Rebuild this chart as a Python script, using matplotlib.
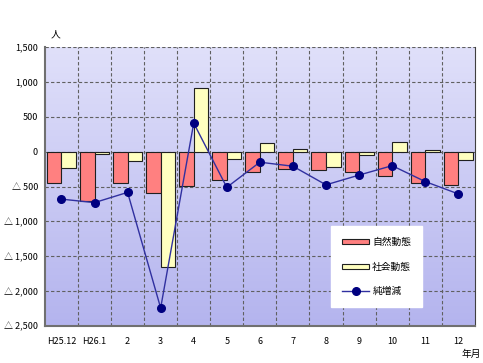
import numpy as np
import matplotlib
matplotlib.use('Agg')
import matplotlib.pyplot as plt
from matplotlib.ticker import FixedLocator

plt.rcParams['font.family'] = ['Noto Sans CJK JP', 'DejaVu Sans']

months = ['H25.12', 'H26.1', '2', '3', '4', '5', '6', '7', '8', '9', '10', '11', '12']
natural = [-445, -700, -450, -592, -497, -411, -285, -244, -258, -297, -344, -449, -483]
social = [-230, -30, -130, -1650, 913, -100, 128, 39, -220, -43, 139, 19, -115]
net = [-680, -730, -583, -2242, 411, -511, -150, -208, -475, -335, -200, -428, -605]

yticks = [1500, 1000, 500, 0, -500, -1000, -1500, -2000, -2500]


def fmt(v):
    if v < 0:
        return '△ {:,}'.format(-v)
    return '{:,}'.format(v)


fig = plt.figure(figsize=(4.83, 3.63), dpi=100)
ax = fig.add_axes([0.093, 0.102, 0.890, 0.768])

x = np.arange(len(months))
w = 0.44

# gradient background
grad = np.linspace(0, 1, 256).reshape(-1, 1)
cmap = matplotlib.colors.LinearSegmentedColormap.from_list('bg', ['#e0e0fa', '#b4b4ee'])
ax.imshow(grad, aspect='auto', cmap=cmap, extent=[-0.5, 12.5, -2500, 1500],
          origin='upper', zorder=0)

b1 = ax.bar(x - w / 2, natural, w, color='#ff8080', edgecolor='#202020', linewidth=0.8,
            zorder=3, label='自然動態')
b2 = ax.bar(x + w / 2, social, w, color='#ffffc0', edgecolor='#202020', linewidth=0.8,
            zorder=3, label='社会動態')
ln, = ax.plot(x, net, color='#3030a0', linewidth=1.0, marker='o', markersize=5.5,
              markerfacecolor='#000080', markeredgecolor='#000080', zorder=4, label='純増減')

ax.set_xlim(-0.5, 12.5)
ax.set_ylim(-2500, 1500)
ax.set_xticks(x)
ax.set_xticklabels(months)
ax.set_yticks(yticks)
ax.set_yticklabels([fmt(v) for v in yticks])
ax.tick_params(length=0, labelsize=6.5)
ax.tick_params(axis='y', pad=5)
ax.tick_params(axis='x', pad=8)

ax.xaxis.set_minor_locator(FixedLocator(np.arange(0.5, 12.5, 1)))
ax.grid(True, which='minor', axis='x', color='#606060', linestyle=(0, (3, 2)), linewidth=0.8)
ax.grid(True, which='major', axis='y', color='#606060', linestyle=(0, (3, 2)), linewidth=0.8)
ax.tick_params(which='minor', length=0)
ax.set_axisbelow(True)

for s in ['left', 'bottom']:
    ax.spines[s].set_color('#707070')
    ax.spines[s].set_linewidth(1.5)
ax.spines['right'].set_color('#404040')
ax.spines['top'].set_visible(False)

leg = ax.legend([b1, b2, ln], ['自然動態', '社会動態', '純増減'],
                loc='lower right', bbox_to_anchor=(0.877, 0.068), borderaxespad=0,
                fontsize=7, frameon=True, fancybox=False, handlelength=2.8,
                labelspacing=1.5, borderpad=1.1, handletextpad=0.3, handleheight=0.5)
leg.get_frame().set_edgecolor('white')
leg.get_frame().set_facecolor('white')
leg.get_frame().set_alpha(1)

fig.text(0.115, 0.905, '人', fontsize=7, ha='center', va='center')
fig.text(0.975, 0.025, '年月', fontsize=7, ha='center', va='center')

fig.savefig('out.png', dpi=100)
